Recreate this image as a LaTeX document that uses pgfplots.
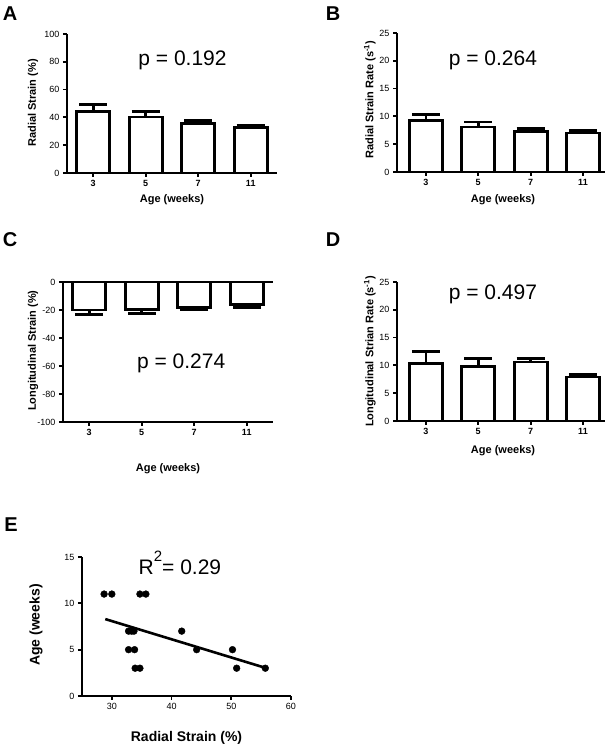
\documentclass[border=0pt]{standalone}
\usepackage{fontspec}
\setmainfont{Liberation Sans}
\usepackage{pgfplots}
\pgfplotsset{compat=1.18}
\pgfplotsset{
 prism/.style={
  scale only axis, anchor=south west,
  axis lines=left, axis line style={-, line width=2.2pt},
  tick align=outside, major tick length=4pt,
  tick style={black, line width=1.8pt},
  /pgf/number format/assume math mode=true,
  yticklabel style={font=\fontsize{9}{10}\selectfont},
  xticklabel style={font=\bfseries\fontsize{9}{10}\selectfont},
  label style={font=\bfseries\fontsize{11}{12}\selectfont},
  clip=false,
 },
 bars/.style={prism, xtick={0,1,2,3}, xticklabels={3,5,7,11}},
 mybar/.style={ybar, bar width=33pt, bar shift=0pt, fill=white, draw=black, line width=2.8pt,
   error bars/y explicit,
   error bars/error bar style={line width=2.6pt},
   error bars/error mark options={rotate=90, mark size=14pt, line width=2.8pt}},
}
\newcommand{\ptext}{\fontsize{21}{24}\selectfont}
\newcommand{\letter}{\bfseries\fontsize{20}{22}\selectfont}
\begin{document}
\begin{tikzpicture}
\useasboundingbox (0pt,0pt) rectangle (610pt,750pt);

% ---------- A ----------
\begin{axis}[bars, at={(67pt,577pt)}, width=210pt, height=139pt,
  xmin=-0.5, xmax=3.5, ymin=0, ymax=100, ytick={0,20,40,60,80,100},
  xlabel={Age (weeks)}, ylabel={Radial Strain (\%)},
  xlabel style={at={(axis description cs:0.5,-0.194)}, anchor=center},
  ylabel style={at={(axis description cs:-0.162,0.504)}, anchor=center}]
\addplot[mybar, error bars/y dir=plus] coordinates {
 (0,44) +- (0,5)
 (1,40.3) +- (0,4.2)
 (2,35.5) +- (0,2)
 (3,32.5) +- (0,1.5)};
\node[font=\ptext] at (axis cs:1.7,81) {p = 0.192};
\end{axis}

% ---------- B ----------
\begin{axis}[bars, at={(397pt,578pt)}, width=208pt, height=139pt,
  xmin=-0.55, xmax=3.42, ymin=0, ymax=25, ytick={0,5,10,15,20,25},
  xlabel={Age (weeks)}, ylabel={Radial Strain Rate (s\textsuperscript{-1})},
  xlabel style={at={(axis description cs:0.51,-0.2)}, anchor=center},
  ylabel style={at={(axis description cs:-0.13,0.52)}, anchor=center}]
\addplot[mybar, error bars/y dir=plus] coordinates {
 (0,9.2) +- (0,1.1)
 (1,8.1) +- (0,0.9)
 (2,7.3) +- (0,0.5)
 (3,7.0) +- (0,0.5)};
\node[font=\ptext] at (axis cs:1.28,20.1) {p = 0.264};
\end{axis}

% ---------- C ----------
\begin{axis}[bars, at={(63pt,328pt)}, width=210pt, height=140pt,
  xmin=-0.5, xmax=3.5, ymin=-100, ymax=0, ytick={-100,-80,-60,-40,-20,0},
  xlabel={Age (weeks)}, ylabel={Longitudinal Strain (\%)},
  xlabel style={at={(axis description cs:0.5,-0.33)}, anchor=center},
  ylabel style={at={(axis description cs:-0.143,0.51)}, anchor=center}]
\addplot[black, line width=2.2pt, forget plot] coordinates {(-0.5,0) (3.5,0)};
\addplot[mybar, error bars/y dir=minus] coordinates {
 (0,-20) +- (0,3.5)
 (1,-19.5) +- (0,3)
 (2,-18) +- (0,2)
 (3,-16) +- (0,2)};
\node[font=\ptext] at (axis cs:1.75,-58) {p = 0.274};
\end{axis}

% ---------- D ----------
\begin{axis}[bars, at={(397pt,329pt)}, width=208pt, height=139pt,
  xmin=-0.55, xmax=3.42, ymin=0, ymax=25, ytick={0,5,10,15,20,25},
  xlabel={Age (weeks)}, ylabel={Longitudinal Strian Rate (s\textsuperscript{-1})},
  xlabel style={at={(axis description cs:0.51,-0.21)}, anchor=center},
  ylabel style={at={(axis description cs:-0.13,0.5)}, anchor=center}]
\addplot[mybar, error bars/y dir=plus] coordinates {
 (0,10.4) +- (0,2.1)
 (1,9.8) +- (0,1.4)
 (2,10.6) +- (0,0.7)
 (3,7.9) +- (0,0.4)};
\node[font=\ptext] at (axis cs:1.28,22.7) {p = 0.497};
\end{axis}

% ---------- E ----------
\begin{axis}[prism, at={(82pt,54pt)}, width=209pt, height=139pt,
  xmin=25, xmax=60, ymin=0, ymax=15, xtick={30,40,50,60}, ytick={0,5,10,15},
  xticklabel style={font=\fontsize{9}{10}\selectfont},
  label style={font=\bfseries\fontsize{14}{16}\selectfont},
  xlabel={Radial Strain (\%)}, ylabel={Age (weeks)},
  xlabel style={at={(axis description cs:0.5,-0.30)}, anchor=center},
  ylabel style={at={(axis description cs:-0.22,0.51)}, anchor=center}]
\addplot[only marks, mark=*, mark size=3.4pt, black] coordinates {
 (28.7,11) (30.0,11) (34.7,11) (35.7,11)
 (32.8,7) (33.3,7) (33.7,7) (41.7,7)
 (32.8,5) (33.8,5) (44.2,5) (50.2,5)
 (33.9,3) (34.7,3) (50.9,3) (55.7,3)};
\addplot[black, line width=2.6pt] coordinates {(28.9,8.3) (55.9,3.0)};
\node[font=\ptext] at (axis cs:41.4,14.4) {R\raisebox{1.2ex}{\fontsize{15}{15}\selectfont 2}= 0.29};
\end{axis}

% panel letters
\node[font=\letter] at (10pt,736pt) {A};
\node[font=\letter] at (333pt,736pt) {B};
\node[font=\letter] at (10pt,510pt) {C};
\node[font=\letter] at (333pt,510pt) {D};
\node[font=\letter] at (11pt,225pt) {E};
\end{tikzpicture}
\end{document}
